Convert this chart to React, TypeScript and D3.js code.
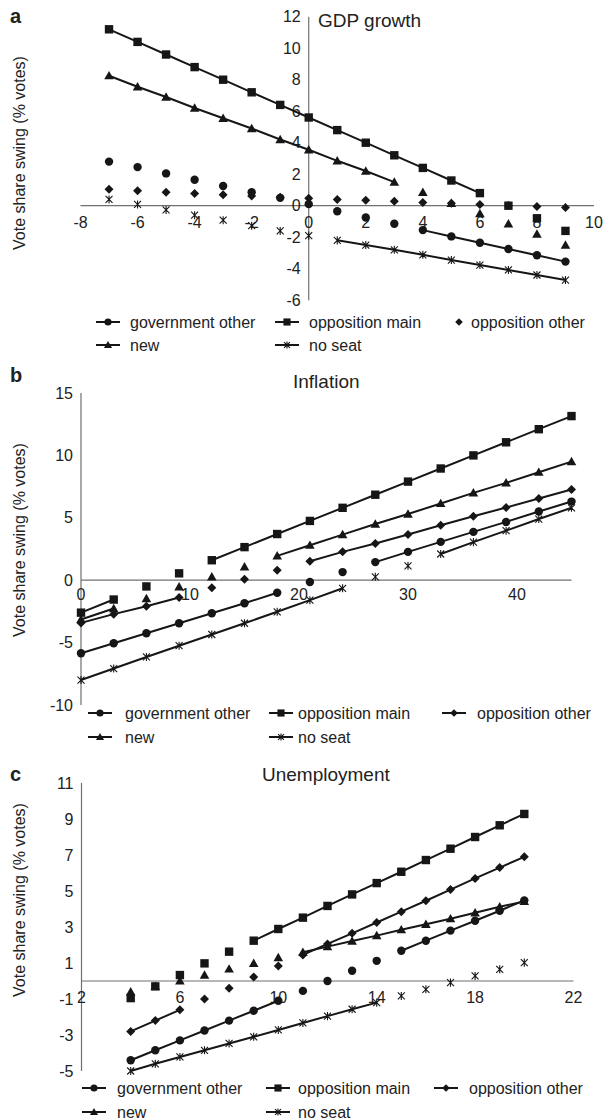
import { useEffect, useRef } from "react";
import * as d3 from "d3";

const seriesNames = ["government other", "opposition main", "opposition other", "new", "no seat"];
const seriesMarkers = ["circle", "square", "diamond", "triangle", "star"];

// a: GDP growth
const gdpX = [-7, -6, -5, -4, -3, -2, -1, 0, 1, 2, 3, 4, 5, 6, 7, 8, 9];
const gdpGovOther = [2.8, 2.45, 2.05, 1.65, 1.25, 0.85, 0.5, 0.1, -0.35, -0.75, -1.15, -1.55, -1.95, -2.35, -2.75, -3.15, -3.55];
const gdpOppMain = [11.2, 10.4, 9.6, 8.8, 8.0, 7.2, 6.4, 5.6, 4.8, 4.0, 3.2, 2.4, 1.6, 0.8, 0.0, -0.8, -1.6];
const gdpOppOther = [1.05, 0.95, 0.85, 0.78, 0.7, 0.62, 0.53, 0.47, 0.4, 0.34, 0.28, 0.21, 0.15, 0.08, 0.02, -0.05, -0.12];
const gdpNew = [8.25, 7.55, 6.9, 6.2, 5.55, 4.9, 4.2, 3.55, 2.85, 2.2, 1.5, 0.85, 0.15, -0.5, -1.15, -1.8, -2.5];
const gdpNoSeat = [0.4, 0.08, -0.27, -0.6, -0.92, -1.27, -1.6, -1.9, -2.2, -2.5, -2.8, -3.12, -3.45, -3.77, -4.08, -4.4, -4.72];
// x ranges joined by a line, per series
const gdpJoined = [[[4, 9]], [[-7, 6]], [], [[-7, 3]], [[1, 9]]];
const gdpXTicks = [-8, -6, -4, -2, 0, 2, 4, 6, 8, 10];
const gdpYTicks = [-6, -4, -2, 0, 2, 4, 6, 8, 10, 12];
const gdpXDomain = [-8, 10];

// b: Inflation
const infX = [0, 3, 6, 9, 12, 15, 18, 21, 24, 27, 30, 33, 36, 39, 42, 45];
const infGovOther = [-5.85, -5.05, -4.25, -3.45, -2.65, -1.85, -1.0, -0.15, 0.65, 1.45, 2.27, 3.07, 3.87, 4.67, 5.5, 6.3];
const infOppMain = [-2.6, -1.55, -0.5, 0.55, 1.6, 2.65, 3.7, 4.75, 5.8, 6.85, 7.9, 8.95, 10.0, 11.05, 12.1, 13.15];
const infOppOther = [-3.42, -2.72, -2.08, -1.39, -0.61, 0.08, 0.8, 1.52, 2.27, 2.94, 3.66, 4.4, 5.13, 5.82, 6.55, 7.27];
const infNew = [-3.15, -2.27, -1.47, -0.53, 0.27, 1.07, 1.95, 2.8, 3.65, 4.5, 5.3, 6.15, 7.0, 7.8, 8.65, 9.5];
const infNoSeat = [-8.0, -7.08, -6.15, -5.25, -4.35, -3.45, -2.53, -1.6, -0.65, 0.27, 1.15, 2.1, 3.05, 3.97, 4.9, 5.8];
const infJoined = [[[0, 18], [27, 45]], [[0, 3], [12, 45]], [[0, 9], [21, 45]], [[0, 3], [18, 45]], [[0, 24], [33, 45]]];
const infXTicks = [0, 10, 20, 30, 40];
const infYTicks = [-10, -5, 0, 5, 10, 15];
const infXDomain = [0, 45];

// c: Unemployment
const uneX = [4, 5, 6, 7, 8, 9, 10, 11, 12, 13, 14, 15, 16, 17, 18, 19, 20];
const uneGovOther = [-4.4, -3.85, -3.3, -2.75, -2.2, -1.65, -1.1, -0.55, 0.0, 0.57, 1.12, 1.68, 2.24, 2.8, 3.35, 3.9, 4.48];
const uneOppMain = [-0.95, -0.3, 0.33, 0.98, 1.63, 2.24, 2.89, 3.52, 4.17, 4.81, 5.44, 6.07, 6.72, 7.35, 8.0, 8.65, 9.28];
const uneOppOther = [-2.8, -2.2, -1.6, -1.0, -0.4, 0.22, 0.83, 1.45, 2.06, 2.65, 3.25, 3.85, 4.46, 5.08, 5.7, 6.3, 6.9];
const uneNew = [-0.6, -0.3, 0.0, 0.33, 0.67, 0.98, 1.3, 1.6, 1.91, 2.22, 2.52, 2.85, 3.15, 3.46, 3.79, 4.12, 4.42];
const uneNoSeat = [-5.0, -4.6, -4.22, -3.85, -3.47, -3.1, -2.72, -2.33, -1.95, -1.57, -1.2, -0.83, -0.46, -0.09, 0.28, 0.65, 1.02];
const uneJoined = [[[4, 10], [15, 20]], [[9, 20]], [[4, 6], [11, 20]], [[11, 20]], [[4, 14]]];
const uneXTicks = [2, 6, 10, 14, 18, 22];
const uneYTicks = [-5, -3, -1, 1, 3, 5, 7, 9, 11];
const uneXDomain = [2, 22];

const ink = "#161616";
const axisColor = "#707070";
const font = "'Liberation Sans', Arial, Helvetica, sans-serif";

const panels = [
	{
		letter: "a", title: "GDP growth",
		x: gdpX, series: [gdpGovOther, gdpOppMain, gdpOppOther, gdpNew, gdpNoSeat], joined: gdpJoined,
		xTicks: gdpXTicks, yTicks: gdpYTicks, xDomain: gdpXDomain, xCross: 0,
		xRange: [80.5, 594], yRange: [300.2, 16.7], xLabelDy: 17,
		letterPos: [10, 23], titlePos: [318, 27], yTitleY: 153,
		legendRows: [322, 345], legendCx: [108, 287, 459], legendTx: [130, 309, 471]
	},
	{
		letter: "b", title: "Inflation",
		x: infX, series: [infGovOther, infOppMain, infOppOther, infNew, infNoSeat], joined: infJoined,
		xTicks: infXTicks, yTicks: infYTicks, xDomain: infXDomain, xCross: 0,
		xRange: [81, 571.5], yRange: [705, 393], xLabelDy: 14,
		letterPos: [10, 382], titlePos: [293, 388], yTitleY: 540,
		legendRows: [713, 737], legendCx: [100, 281, 454], legendTx: [125, 298, 477]
	},
	{
		letter: "c", title: "Unemployment",
		x: uneX, series: [uneGovOther, uneOppMain, uneOppOther, uneNew, uneNoSeat], joined: uneJoined,
		xTicks: uneXTicks, yTicks: uneYTicks, xDomain: uneXDomain, xCross: 2,
		xRange: [81.5, 573.5], yRange: [1071, 783], xLabelDy: 16,
		letterPos: [10, 781], titlePos: [262, 781], yTitleY: 900,
		legendRows: [1088, 1112], legendCx: [94, 278, 446], legendTx: [117, 298, 469]
	}
];

const drawMarker = (g, type, cx, cy, k = 1) => {
	if (type === "circle") {
		g.append("circle").attr("cx", cx).attr("cy", cy).attr("r", 4.2 * k).attr("fill", ink);
	} else if (type === "square") {
		const s = 4.2 * k;
		g.append("rect").attr("x", cx - s).attr("y", cy - s).attr("width", 2 * s).attr("height", 2 * s).attr("fill", ink);
	} else if (type === "diamond") {
		const s = 4.5 * k;
		g.append("path").attr("d", `M${cx},${cy - s}L${cx + s},${cy}L${cx},${cy + s}L${cx - s},${cy}Z`).attr("fill", ink);
	} else if (type === "triangle") {
		const s = 4.8 * k;
		g.append("path").attr("d", `M${cx},${cy - s}L${cx + s},${cy + s * 0.75}L${cx - s},${cy + s * 0.75}Z`).attr("fill", ink);
	} else {
		const s = 3.5 * k;
		g.append("path")
			.attr("d", `M${cx - s},${cy - s}L${cx + s},${cy + s}M${cx + s},${cy - s}L${cx - s},${cy + s}M${cx},${cy - s * 1.15}L${cx},${cy + s * 1.15}`)
			.attr("stroke", ink).attr("stroke-width", 1.1).attr("fill", "none");
	}
};

const drawPanel = (svg, p) => {
	const x = d3.scaleLinear().domain(p.xDomain).range(p.xRange);
	const y = d3.scaleLinear().domain(d3.extent(p.yTicks)).range(p.yRange);
	const g = svg.append("g");

	// axes crossing at (xCross, 0)
	g.append("line")
		.attr("x1", x.range()[0]).attr("x2", x.range()[1])
		.attr("y1", y(0)).attr("y2", y(0))
		.attr("stroke", axisColor).attr("stroke-width", 1.2);
	g.append("line")
		.attr("x1", x(p.xCross)).attr("x2", x(p.xCross))
		.attr("y1", y.range()[0]).attr("y2", y.range()[1])
		.attr("stroke", axisColor).attr("stroke-width", 1.2);

	g.selectAll(".xt")
		.data(p.xTicks)
		.enter()
		.append("text")
		.attr("x", d => x(d))
		.attr("y", y(0) + p.xLabelDy)
		.attr("text-anchor", "middle")
		.attr("dominant-baseline", "central")
		.style("font-size", "16px")
		.text(d => d);

	g.selectAll(".yt")
		.data(p.yTicks)
		.enter()
		.append("text")
		.attr("x", x(p.xCross) - 8)
		.attr("y", d => y(d))
		.attr("text-anchor", "end")
		.attr("dominant-baseline", "central")
		.style("font-size", "16px")
		.text(d => d);

	const line = d3.line().x(d => x(d[0])).y(d => y(d[1]));
	p.series.forEach((vals, i) => {
		const pts = p.x.map((xv, j) => [xv, vals[j]]);
		p.joined[i].forEach(([a, b]) => {
			g.append("path")
				.attr("d", line(pts.filter(d => d[0] >= a && d[0] <= b)))
				.attr("fill", "none")
				.attr("stroke", ink)
				.attr("stroke-width", 2);
		});
	});
	p.series.forEach((vals, i) => {
		p.x.forEach((xv, j) => drawMarker(g, seriesMarkers[i], x(xv), y(vals[j])));
	});

	g.append("text")
		.attr("x", p.letterPos[0]).attr("y", p.letterPos[1])
		.style("font-size", "20px").style("font-weight", "bold")
		.text(p.letter);
	g.append("text")
		.attr("x", p.titlePos[0]).attr("y", p.titlePos[1])
		.style("font-size", "19px")
		.text(p.title);
	g.append("text")
		.attr("transform", `translate(25, ${p.yTitleY}) rotate(-90)`)
		.attr("text-anchor", "middle")
		.style("font-size", "16px")
		.text("Vote share swing (% votes)");

	// legend: 3 items on first row, 2 on second
	seriesNames.forEach((name, i) => {
		const row = i < 3 ? 0 : 1;
		const col = i < 3 ? i : i - 3;
		const cy = p.legendRows[row];
		const cx = p.legendCx[col];
		if (p.joined[i].length) {
			g.append("line")
				.attr("x1", cx - 12).attr("x2", cx + 12)
				.attr("y1", cy).attr("y2", cy)
				.attr("stroke", ink).attr("stroke-width", 2);
		}
		drawMarker(g, seriesMarkers[i], cx, cy, 0.85);
		g.append("text")
			.attr("x", p.legendTx[col]).attr("y", cy)
			.attr("dominant-baseline", "central")
			.style("font-size", "16px")
			.text(name);
	});
};

export default function App() {
	const ref = useRef(null);

	useEffect(() => {
		const svg = d3.select(ref.current);
		svg.selectAll("*").remove();
		panels.forEach(p => drawPanel(svg, p));
	}, []);

	return (
		<div style={{ position: "absolute", left: 0, top: 0 }}>
			<svg
				ref={ref}
				width={606}
				height={1120}
				style={{ display: "block", background: "#fff", fontFamily: font, fill: "#222" }}
			/>
		</div>
	);
}
